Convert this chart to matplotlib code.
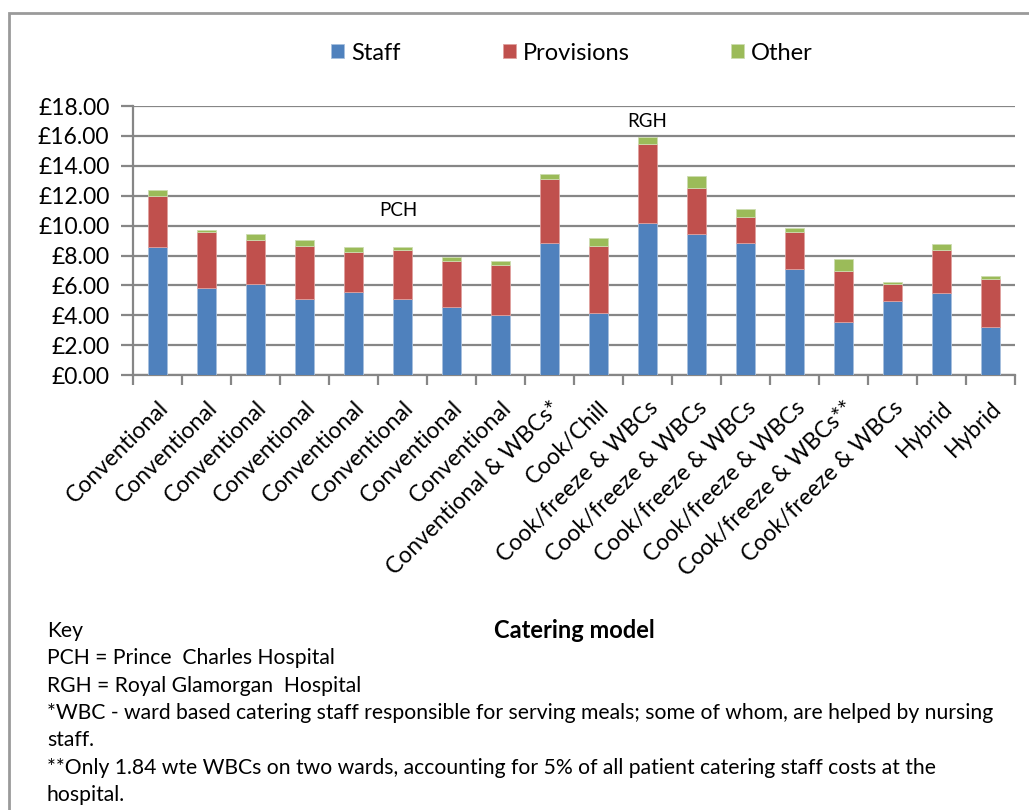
import numpy as np
import matplotlib
matplotlib.use('Agg')
import matplotlib.pyplot as plt
from matplotlib.patches import Rectangle

plt.rcParams['font.family'] = ['Lato', 'DejaVu Sans']

# data (£ per patient day)
models = ['Conventional'] * 8 + ['Conventional & WBCs*', 'Cook/Chill'] + \
         ['Cook/freeze & WBCs'] * 4 + ['Cook/freeze & WBCs**', 'Cook/freeze & WBCs',
                                      'Hybrid', 'Hybrid']
staff = [8.54, 5.82, 6.09, 5.07, 5.58, 5.07, 4.53, 4.02, 8.81,
         4.13, 10.19, 9.42, 8.81, 7.12, 3.52, 4.93, 5.47, 3.23]
provisions = [3.44, 3.73, 2.97, 3.59, 2.68, 3.32, 3.10, 3.36, 4.33,
              4.53, 5.29, 3.12, 1.79, 2.43, 3.46, 1.14, 2.92, 3.22]
other = [0.42, 0.15, 0.38, 0.40, 0.31, 0.18, 0.29, 0.27, 0.31,
         0.53, 0.43, 0.76, 0.51, 0.29, 0.78, 0.15, 0.38, 0.18]

notes = [
    'Key',
    'PCH = Prince  Charles Hospital',
    'RGH = Royal Glamorgan  Hospital',
    '*WBC - ward based catering staff responsible for serving meals; some of whom, are helped by nursing',
    'staff.',
    '**Only 1.84 wte WBCs on two wards, accounting for 5% of all patient catering staff costs at the',
    'hospital.',
]

blue, red, green = '#4f81bd', '#c0504d', '#9bbb59'
grey = '#868686'

fig = plt.figure(figsize=(10.29, 8.10), dpi=100)
ax = fig.add_axes([0.1293, 0.537, 0.8571, 0.332])

# outer chart frame (runs off the right/bottom of the picture)
fig.patches.append(Rectangle((9 / 1029, -0.1), 1.2, 1 - 13 / 810 + 0.1,
                             transform=fig.transFigure, fill=False,
                             edgecolor='#9a9a9a', lw=2, zorder=0))

x = np.arange(len(models))
s = np.array(staff)
p = np.array(provisions)
o = np.array(other)
w = 0.39
ax.bar(x, s, w, color=blue, edgecolor='#a7c0de', lw=0.6, label='Staff', zorder=3)
ax.bar(x, p, w, bottom=s, color=red, edgecolor='#dfa09e', lw=0.6, label='Provisions', zorder=3)
ax.bar(x, o, w, bottom=s + p, color=green, edgecolor='#cddcb0', lw=0.6, label='Other', zorder=3)

ax.set_xlim(-0.5, len(models) - 0.5)
ax.set_ylim(0, 18)
ax.set_yticks(np.arange(0, 19, 2))
ax.set_yticklabels(['£%.2f' % v for v in np.arange(0, 19, 2)], fontsize=16.5)
ax.grid(axis='y', color=grey, lw=1.6, zorder=0)
ax.tick_params(axis='y', length=9, width=1.6, color=grey, pad=8)

ax.set_xticks(x)
ax.set_xticklabels(models, rotation=45, ha='right', rotation_mode='anchor', fontsize=16.5)
ax.set_xticks(np.arange(-0.5, len(models), 1), minor=True)
ax.tick_params(axis='x', which='major', length=0, pad=16)
ax.tick_params(axis='x', which='minor', length=7, width=1.6, color=grey)

for side in ['top', 'right']:
    ax.spines[side].set_visible(False)
for side in ['left', 'bottom']:
    ax.spines[side].set_color(grey)
    ax.spines[side].set_linewidth(1.6)

ax.text(4.91, 10.98, 'PCH', ha='center', va='center', fontsize=13.5)
ax.text(10.0, 17.0, 'RGH', ha='center', va='center', fontsize=13.5)

fig.legend(loc='center', bbox_to_anchor=(0.556, 1 - 53 / 810), ncol=3, frameon=False,
           fontsize=17, handlelength=0.55, handleheight=0.55, handletextpad=0.3,
           columnspacing=4.3)

fig.text(574 / 1029, 1 - 631 / 810, 'Catering model', ha='center', va='center',
         fontsize=17, fontweight='bold')
for i, line in enumerate(notes):
    fig.text(47 / 1029, 1 - (631 + 27.3 * i) / 810, line, ha='left', va='center',
             fontsize=15.2)

fig.savefig('out.png', dpi=100)
